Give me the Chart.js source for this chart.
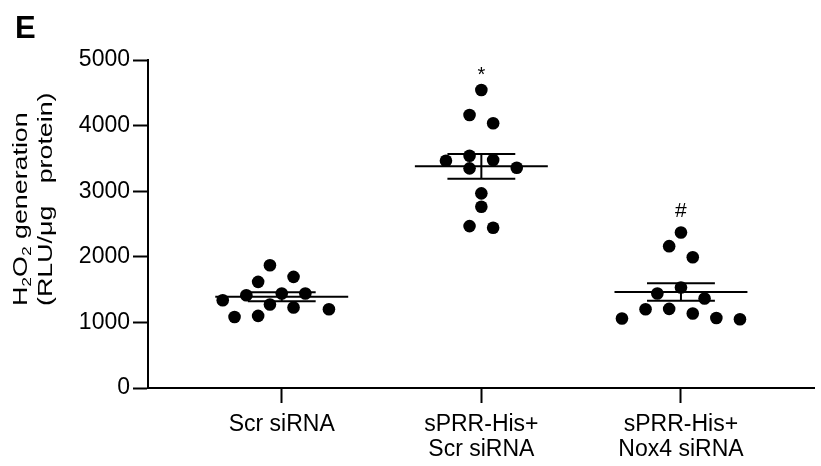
<!DOCTYPE html>
<html>
<head>
<meta charset="utf-8">
<script src="https://cdn.jsdelivr.net/npm/chart.js@4.4.1/dist/chart.umd.min.js"></script>
<style>
  html, body { margin: 0; padding: 0; background: #fff; }
  #wrap { width: 821px; height: 466px; position: relative; }
</style>
</head>
<body>
<div id="wrap"><canvas id="chart" width="821" height="466"></canvas></div>
<script>
// H2O2 generation per well (RLU/µg protein), one array per treatment group
const groupLabels = [["Scr siRNA"], ["sPRR-His+", "Scr siRNA"], ["sPRR-His+", "Nox4 siRNA"]];
const scrSiRNA  = [1872, 1694, 1618, 1440, 1440, 1415, 1338, 1273, 1227, 1201, 1099, 1083];
const sprrScr   = [4543, 4161, 4035, 3540, 3475, 3464, 3357, 3348, 2967, 2762, 2468, 2442];
const sprrNox4  = [2371, 2162, 1994, 1532, 1440, 1364, 1206, 1201, 1135, 1068, 1059, 1048];
const significance = ["", "*", "#"];
const yTicks = [0, 1000, 2000, 3000, 4000, 5000];
const panelLetter = "E";

const groups = [scrSiRNA, sprrScr, sprrNox4];
const FONT = "'Liberation Sans', Arial, Helvetica, sans-serif";

function mean(a) { return a.reduce((s, v) => s + v, 0) / a.length; }
function sem(a) {
  const m = mean(a);
  const sd = Math.sqrt(a.reduce((s, v) => s + (v - m) * (v - m), 0) / (a.length - 1));
  return sd / Math.sqrt(a.length);
}

// Scatter-dot layout: points close in height form a row that is centred on the
// group, on a half-step grid. Dots keep a full step apart sideways unless they
// are far enough apart in height (elliptical clearance).
function swarmOffsets(values, yPix, halfStep, rowH, clearX, clearY) {
  const order = values.map((v, i) => i).sort((a, b) => values[b] - values[a]);
  const rows = [];
  order.forEach(i => {
    const y = yPix(values[i]);
    const row = rows[rows.length - 1];
    if (row && y - row.start < rowH) row.items.push({ i, y });
    else rows.push({ start: y, items: [{ i, y }] });
  });
  const free = (x, y, placed) => placed.every(p => {
    const ex = (p.x - x) / clearX, ey = (p.y - y) / clearY;
    return ex * ex + ey * ey >= 0.999;
  });
  const placed = [];
  const offs = new Array(values.length).fill(0);
  rows.forEach(row => {
    const parity = (row.items.length - 1) % 2;
    const cands = [];
    for (let k = -14; k <= 14; k++) cands.push(k);
    cands.sort((a, b) => {
      const ka = Math.abs(a) + (Math.abs(a) % 2 !== parity ? 1.5 : 0);
      const kb = Math.abs(b) + (Math.abs(b) % 2 !== parity ? 1.5 : 0);
      return ka - kb || a - b;
    });
    row.items.forEach(({ i, y }) => {
      for (const k of cands) {
        const x = k * halfStep;
        if (free(x, y, placed)) {
          offs[i] = x;
          placed.push({ x, y });
          break;
        }
      }
    });
  });
  return offs;
}

const MEAN_HALF = 0.333;
const CAP_HALF = 0.17;

const datasets = [];
groups.forEach((vals, gi) => {
  const m = mean(vals), s = sem(vals);
  datasets.push({
    label: 'dots' + gi,
    data: vals.map(v => ({ x: gi, y: v })),
    pointRadius: 6.3,
    pointHoverRadius: 6.3,
    backgroundColor: '#000',
    borderWidth: 0,
    showLine: false
  });
  datasets.push({
    label: 'mean' + gi,
    data: [{ x: gi - MEAN_HALF, y: m }, { x: gi + MEAN_HALF, y: m }],
    showLine: true,
    borderColor: '#000',
    borderWidth: 2,
    pointRadius: 0
  });
  datasets.push({
    label: 'sem' + gi,
    data: [
      { x: gi - CAP_HALF, y: m + s }, { x: gi + CAP_HALF, y: m + s },
      { x: gi, y: m + s }, { x: gi, y: m - s },
      { x: gi - CAP_HALF, y: m - s }, { x: gi + CAP_HALF, y: m - s }
    ],
    showLine: true,
    borderColor: '#000',
    borderWidth: 2,
    pointRadius: 0
  });
});

// Y-axis title, panel letter and significance marks
const decorations = {
  id: 'decorations',
  afterDatasetsDraw(chart) {
    const ctx = chart.ctx;
    const xs = chart.scales.x, ys = chart.scales.y;
    ctx.save();
    ctx.fillStyle = '#000';

    // panel letter
    ctx.font = "bold 31px " + FONT;
    ctx.textAlign = 'left';
    ctx.textBaseline = 'alphabetic';
    ctx.fillText(panelLetter, 15, 38);

    // significance marks above the highest point of each group
    groups.forEach((vals, gi) => {
      const mark = significance[gi];
      if (!mark) return;
      ctx.font = (mark === '#' ? "21px " : "20px ") + FONT;
      ctx.textAlign = 'center';
      ctx.textBaseline = 'alphabetic';
      const top = ys.getPixelForValue(Math.max(...vals));
      const mt = ctx.measureText(mark);
      const inkBottom = top - 15;
      ctx.fillText(mark, xs.getPixelForValue(gi), inkBottom - mt.actualBoundingBoxDescent);
    });

    // rotated two-line y title
    const startY = chart.chartArea.bottom - 82;
    const stretch = 1.34;
    const drawRuns = (runs, baseX) => {
      ctx.save();
      ctx.translate(baseX, startY);
      ctx.rotate(-Math.PI / 2);
      ctx.scale(stretch, 1);
      ctx.textAlign = 'left';
      ctx.textBaseline = 'alphabetic';
      let x = 0;
      runs.forEach(r => {
        ctx.font = r.size + "px " + FONT;
        ctx.fillText(r.t, x, r.dy || 0);
        x += ctx.measureText(r.t).width;
      });
      ctx.restore();
    };
    drawRuns([
      { t: 'H', size: 20 }, { t: '2', size: 13, dy: 4 },
      { t: 'O', size: 20 }, { t: '2', size: 13, dy: 4 },
      { t: ' generation', size: 20 }
    ], 26.7);
    drawRuns([{ t: '(RLU/\u03bcg   protein)', size: 20 }], 51.7);

    ctx.restore();
  }
};

const chart = new Chart(document.getElementById('chart'), {
  type: 'scatter',
  data: { datasets },
  options: {
    responsive: false,
    animation: false,
    devicePixelRatio: 1,
    layout: { padding: { top: 60, right: 0, bottom: 0, left: 0 } },
    plugins: { legend: { display: false }, tooltip: { enabled: false } },
    scales: {
      x: {
        type: 'linear',
        min: -0.67,
        max: 2.67,
        afterBuildTicks: s => { s.ticks = groupLabels.map((_, i) => ({ value: i })); },
        afterFit: s => { s.height = 78; },
        ticks: {
          autoSkip: false,
          maxRotation: 0,
          padding: 9,
          color: '#000',
          font: { family: FONT, size: 23, lineHeight: 1.09 },
          callback: v => groupLabels[v]
        },
        grid: {
          drawOnChartArea: false,
          drawTicks: true,
          tickLength: 15,
          tickWidth: 2,
          tickColor: '#000'
        },
        border: { display: true, color: '#000', width: 2 }
      },
      y: {
        min: 0,
        max: 5000,
        afterBuildTicks: s => { s.ticks = yTicks.map(v => ({ value: v })); },
        afterFit: s => { s.width = 148; },
        ticks: {
          padding: 3,
          color: '#000',
          font: { family: FONT, size: 23 },
          callback: v => String(v)
        },
        grid: {
          drawOnChartArea: false,
          drawTicks: true,
          tickLength: 15,
          tickWidth: 2,
          tickColor: '#000'
        },
        border: { display: true, color: '#000', width: 2 }
      }
    }
  },
  plugins: [decorations]
});

// spread the dots of each group horizontally once the scales are known
const xs = chart.scales.x, ys = chart.scales.y;
const pxPerUnit = xs.getPixelForValue(1) - xs.getPixelForValue(0);
groups.forEach((vals, gi) => {
  const offs = swarmOffsets(vals, v => ys.getPixelForValue(v), 11.8, 12.5, 23.0, 12.6);
  chart.data.datasets[gi * 3].data = vals.map((v, i) => ({ x: gi + offs[i] / pxPerUnit, y: v }));
});
chart.update('none');
</script>
</body>
</html>
